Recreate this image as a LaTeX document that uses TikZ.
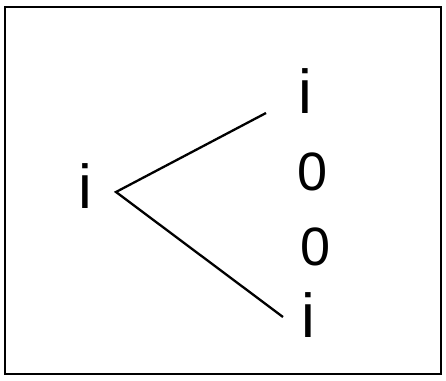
\documentclass[tikz,border=0pt]{standalone}
\usepackage{fontspec}
\setmainfont{Liberation Sans}
\begin{document}
\begin{tikzpicture}[x=1pt,y=-1pt,
  letter/.style={inner sep=0pt,outer sep=0pt,anchor=base west,font=\fontsize{62}{70}\selectfont},
  digit/.style={inner sep=0pt,outer sep=0pt,anchor=base west,font=\fontsize{54}{60}\selectfont},
  branch/.style={draw=black,line width=2.3pt}]
\path[use as bounding box] (0,0) rectangle (446,380);
\path[fill=white,draw=none] (0,0) rectangle (446,380);
\draw[line width=2pt] (5,7) rectangle (441,374);
\node[letter] (root) at (78,208) {i};
\node[letter] (topi) at (298,113) {i};
\node[digit] (zeroa) at (297,190) {0};
\node[digit] (zerob) at (300,265) {0};
\node[letter] (boti) at (301,337) {i};
\coordinate (fork) at (116,192);
\coordinate (upend) at (266,113);
\coordinate (lowend) at (283,317);
\draw[branch] (upend) -- (fork) -- (lowend);
\end{tikzpicture}
\end{document}
